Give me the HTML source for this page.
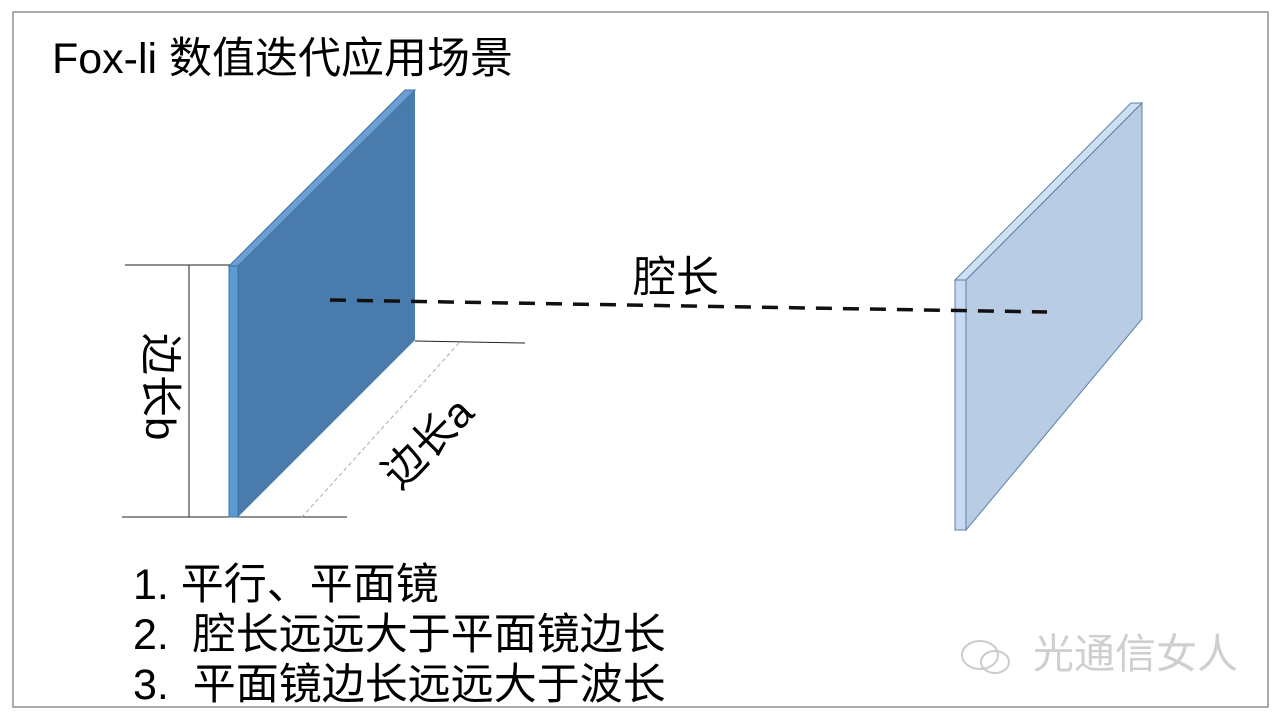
<!DOCTYPE html>
<html><head><meta charset="utf-8"><style>
html,body{margin:0;padding:0;background:#fff;}
body{width:1280px;height:720px;overflow:hidden;position:relative;}
.t{position:absolute;font-family:"Liberation Sans","Noto Sans CJK SC",sans-serif;color:#000;white-space:nowrap;line-height:1;}
</style></head><body>
<svg width="1280" height="720" style="position:absolute;left:0;top:0">
<rect x="13" y="12" width="1255" height="695" fill="none" stroke="#8a9090" stroke-width="1.5"/>
<line x1="125" y1="265" x2="230" y2="265" stroke="#222" stroke-width="1"/>
<line x1="122" y1="517" x2="347" y2="517" stroke="#222" stroke-width="1"/>
<line x1="189" y1="265" x2="189" y2="517" stroke="#222" stroke-width="1"/>
<line x1="415" y1="341" x2="525" y2="343" stroke="#222" stroke-width="1"/>
<line x1="459" y1="343" x2="302" y2="517" stroke="#aaa" stroke-width="1" stroke-dasharray="4,3"/>
<polygon points="229,266 405,90 415,90 238,266" fill="#6a9fd6" stroke="#41719c" stroke-width="1"/>
<polygon points="238,266 415,90 415,340 238,517" fill="#4a7bad"/>
<rect x="229" y="266" width="9" height="251" fill="#5b9bd5" stroke="#41719c" stroke-width="1"/>
<polygon points="955,280 1131,103 1142,103 966,280" fill="#cfe0f3" stroke="#5a7fa8" stroke-width="1"/>
<polygon points="966,280 1142,103 1142,319 966,530" fill="#b8cce4" stroke="#5a7fa8" stroke-width="1"/>
<rect x="955" y="280" width="11" height="250" fill="#c6daf1" stroke="#5a7fa8" stroke-width="1"/>
<line x1="330" y1="300" x2="1047" y2="312" stroke="#111" stroke-width="3.5" stroke-dasharray="16,11"/>
<g fill="none" stroke="#ccc" stroke-width="2">
<ellipse cx="980" cy="655" rx="18" ry="14"/>
<ellipse cx="995" cy="662" rx="14" ry="11"/>
</g>
</svg>
<div class="t" style="left:52px;top:38px;font-size:43px;">Fox-li 数值迭代应用场景</div>
<div class="t" style="left:633px;top:257px;font-size:43px;">腔长</div>
<div class="t" style="left:98px;top:374px;font-size:42px;width:124px;transform:rotate(90deg);transform-origin:62px 21px;">边长b</div>
<div class="t" style="left:372px;top:416px;font-size:42px;transform:rotate(-45deg);transform-origin:62px 21px;">边长a</div>
<div class="t" style="left:133px;top:564px;font-size:43px;">1. 平行、平面镜</div>
<div class="t" style="left:133px;top:614px;font-size:43px;">2.&nbsp; 腔长远远大于平面镜边长</div>
<div class="t" style="left:133px;top:664px;font-size:43px;">3.&nbsp; 平面镜边长远远大于波长</div>
<div class="t" style="left:1033px;top:634px;font-size:41px;color:#cfcfcf;">光通信女人</div>
</body></html>
